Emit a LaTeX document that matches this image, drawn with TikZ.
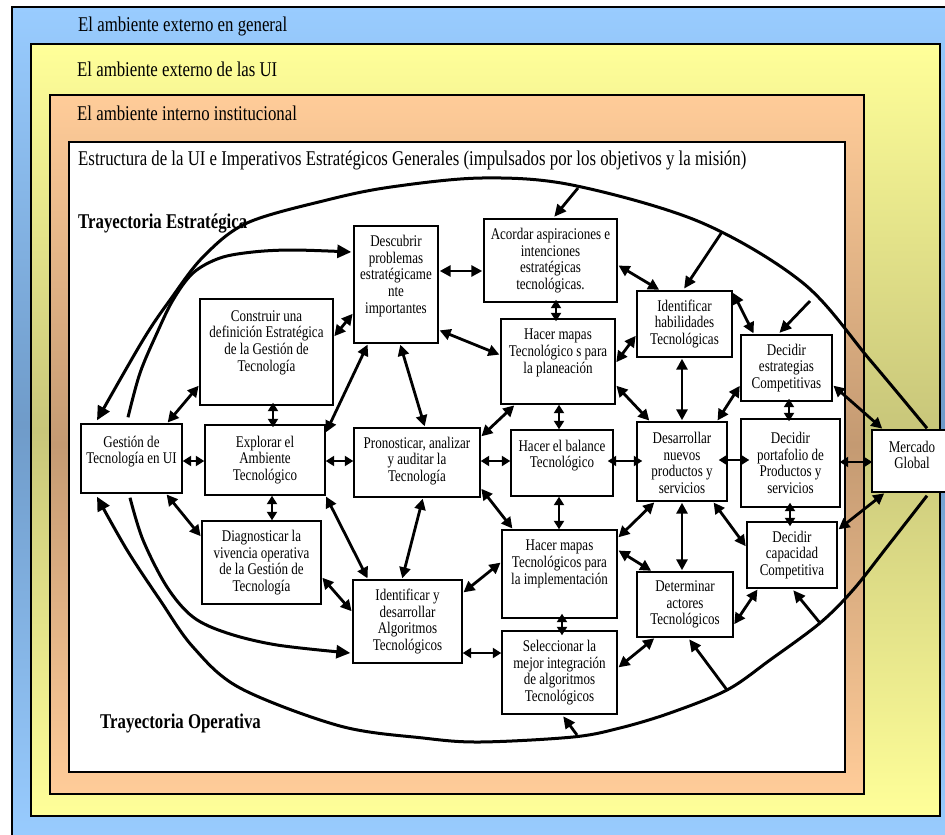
\documentclass[tikz,border=0pt]{standalone}
\usepackage{fontspec}
\setmainfont{Liberation Serif}[FakeStretch=0.8]
\usetikzlibrary{arrows.meta,calc}
\definecolor{bluel}{HTML}{99CCFF}
\definecolor{bluem}{HTML}{6F9BC9}
\definecolor{yell}{HTML}{FFFF99}
\definecolor{yelm}{HTML}{C8C67A}
\definecolor{oral}{HTML}{FFCC99}
\definecolor{oram}{HTML}{C49A72}
\begin{document}
\begin{tikzpicture}[x=1pt,y=-1pt,
  box/.style={draw=black, line width=1.4pt, fill=white, inner sep=0pt},
  txt/.style={align=center, inner sep=0pt, font=\fontsize{16.3}{16.7}\selectfont},
  layer/.style={anchor=base west, inner sep=0pt, font=\fontsize{21}{24}\selectfont},
  traj/.style={anchor=base west, inner sep=0pt, font=\fontsize{21}{24}\selectfont\bfseries},
  dbl/.style={line width=2.8pt, {Triangle[length=11pt,width=11pt]}-{Triangle[length=11pt,width=11pt]}, shorten <=1pt, shorten >=1pt},
  dblshort/.style={line width=2.8pt, {Triangle[length=8.5pt,width=10pt]}-{Triangle[length=8.5pt,width=10pt]}, shorten <=#1, shorten >=#1},
  sarrow/.style={line width=2.8pt, -{Triangle[length=12pt,width=11pt]}, shorten >=2pt},
  arcline/.style={line width=3pt, line join=round},
  arcarrow/.style={arcline, -{Triangle[length=14pt,width=13pt]}},
  layerbox/.style={draw=black, line width=1.4pt},
]
\useasboundingbox (0,0) rectangle (945,835);
\fill[white] (0,0) rectangle (945,835);
% layers
\path[layerbox, top color=bluel, bottom color=bluel, middle color=bluem] (12,7) rectangle (952,842);
\path[layerbox, top color=yell, bottom color=yell, middle color=yelm] (31,44) rectangle (940,816);
\path[layerbox, top color=oral, bottom color=oral, middle color=oram] (50,95) rectangle (864,794);
\path[layerbox, fill=white] (69,142) rectangle (845,772);

\node[layer] (L1) at (78,31) {El ambiente externo en general};
\node[layer] (L2) at (77,76) {El ambiente externo de las UI};
\node[layer] (L3) at (77,120) {El ambiente interno institucional};
\node[layer] (L4) at (78,165) {Estructura de la UI e Imperativos Estratégicos Generales (impulsados por los objetivos y la misión)};
\node[traj] (T1) at (78,228) {Trayectoria Estratégica};
\node[traj] (T2) at (100,728) {Trayectoria Operativa};

% boxes
\node[box, minimum width=101, minimum height=69] (gest) at (131.5,458.5) {};
\node[box, minimum width=133, minimum height=106] (cons) at (266.5,352) {};
\node[box, minimum width=120, minimum height=70] (expl) at (265,460) {};
\node[box, minimum width=119, minimum height=83] (diag) at (261.5,562.5) {};
\node[box, minimum width=84, minimum height=117] (desc) at (396,284.5) {};
\node[box, minimum width=133, minimum height=83] (acor) at (550.5,260.5) {};
\node[box, minimum width=114, minimum height=85] (hmp) at (558,361.5) {};
\node[box, minimum width=126, minimum height=69] (pron) at (417,462.5) {};
\node[box, minimum width=102, minimum height=66] (bal) at (562,463) {};
\node[box, minimum width=95, minimum height=66] (hab) at (684.5,324) {};
\node[box, minimum width=91, minimum height=66] (est) at (786.5,368) {};
\node[box, minimum width=90, minimum height=79] (des) at (682,461.5) {};
\node[box, minimum width=99, minimum height=88] (port) at (790.5,463) {};
\node[box, minimum width=75, minimum height=62] (merc) at (909.5,461) {};
\node[box, minimum width=115, minimum height=88] (impl) at (559.5,574) {};
\node[box, minimum width=109, minimum height=83] (alg) at (407.5,621.5) {};
\node[box, minimum width=115, minimum height=83] (sel) at (559.5,672.5) {};
\node[box, minimum width=96, minimum height=65] (det) at (685,604.5) {};
\node[box, minimum width=90, minimum height=66] (cap) at (792,555) {};

% curves
\coordinate (A0) at ($(merc.north -| 927,0)+(0,-1)$);
\coordinate (A1) at ($(gest.north -| 97,0)+(0,-3)$);
\draw[arcarrow] plot[smooth, tension=0.55] coordinates {(A0) (870,360) (803,283) (700,222) (572,185) (482,178) (391,187) (327,200) (247,223) (203,257) (170,300) (143,340) (A1)};
\coordinate (B0) at ($(gest.north -| 128,0)+(0,-6)$);
\coordinate (B1) at ($(desc.west |- 0,252)+(-2,0)$);
\draw[arcarrow] plot[smooth, tension=0.55] coordinates {(B0) (140,373) (157,333) (173,300) (193,273) (220,258) (253,252) (293,250) (B1)};
\coordinate (C0) at ($(merc.south -| 927,0)+(0,3)$);
\coordinate (C1) at ($(gest.south -| 97,0)+(0,3)$);
\draw[arcarrow] plot[smooth, tension=0.55] coordinates {(C0) (887,547) (853,590) (820,623) (770,660) (727,690) (670,713) (620,728) (573,737) (480,742) (423,738) (340,726) (240,688) (193,647) (160,600) (127,550) (C1)};
\coordinate (D0) at ($(gest.south -| 130,0)+(0,4)$);
\coordinate (D1) at ($(alg.west |- 0,653)+(-2,0)$);
\draw[arcarrow] plot[smooth, tension=0.55] coordinates {(D0) (143,540) (167,587) (193,617) (227,633) (277,645) (D1)};

% short arrows from the curves
\coordinate (s1) at (578,188);
\coordinate (s2) at (722,232);
\coordinate (s3) at (810,301);
\coordinate (s4) at (727,690);
\coordinate (s5) at (820,623);
\coordinate (s6) at (577,735);
\draw[sarrow] (s1) -- (acor.north -| 553,0);
\draw[sarrow] (s2) -- (hab.north -| 683,0);
\draw[sarrow] (s3) -- (est.north -| 778,0);
\draw[sarrow] (s4) -- (det.south -| 688,0);
\draw[sarrow] (s5) -- (cap.south -| 792,0);
\draw[sarrow] (s6) -- (sel.south -| 562,0);

% texts
\node[txt] (gest-t) at ([yshift=7pt]gest.center) {Gestión de\\Tecnología en UI};
\node[txt] (cons-t) at ([yshift=9.5pt]cons.center) {Construir una\\definición Estratégica\\de la Gestión de\\Tecnología};
\node[txt] (expl-t) at (expl.center) {Explorar el\\Ambiente\\Tecnológico};
\node[txt] (diag-t) at (diag.center) {Diagnosticar la\\vivencia operativa\\de la Gestión de\\Tecnología};
\node[txt] (desc-t) at ([yshift=8.5pt]desc.center) {Descubrir\\problemas\\estratégicame\\nte\\importantes};
\node[txt] (acor-t) at (acor.center) {Acordar aspiraciones e\\intenciones\\estratégicas\\tecnológicas.};
\node[txt] (hmp-t) at ([yshift=8.5pt]hmp.center) {Hacer mapas\\Tecnológico s para\\la planeación};
\node[txt] (pron-t) at ([yshift=1.5pt]pron.center) {Pronosticar, analizar\\y auditar la\\Tecnología};
\node[txt] (bal-t) at ([yshift=7.5pt]bal.center) {Hacer el balance\\Tecnológico};
\node[txt] (hab-t) at (hab.center) {Identificar\\habilidades\\Tecnológicas};
\node[txt] (est-t) at (est.center) {Decidir\\estrategias\\Competitivas};
\node[txt] (des-t) at ([yshift=-1.5pt]des.center) {Desarrollar\\nuevos\\productos y\\servicios};
\node[txt] (port-t) at (port.center) {Decidir\\portafolio de\\Productos y\\servicios};
\node[txt] (merc-t) at ([xshift=2.5pt,yshift=6pt]merc.center) {Mercado\\Global};
\node[txt] (impl-t) at ([yshift=10pt]impl.center) {Hacer mapas\\Tecnológicos para\\la implementación};
\node[txt] (alg-t) at (alg.center) {Identificar y\\desarrollar\\Algoritmos\\Tecnológicos};
\node[txt] (sel-t) at (sel.center) {Seleccionar la\\mejor integración\\de algoritmos\\Tecnológicos};
\node[txt] (det-t) at (det.center) {Determinar\\actores\\Tecnológicos};
\node[txt] (cap-t) at (cap.center) {Decidir\\capacidad\\Competitiva};

% double arrows
\draw[dbl] (gest.north -| 167,0) -- (cons.west |- 0,385);
\draw[dblshort=0pt] (gest.east |- 0,461) -- (expl.west |- 0,461);
\draw[dbl] (gest.south -| 166,0) -- (diag.west |- 0,537);
\draw[dblshort=-3pt] (cons.south -| 273,0) -- (expl.north -| 273,0);
\draw[dbl] (cons.east |- 0,337) -- (desc.west |- 0,313);
\draw[dbl] (expl.east |- 0,433) -- (desc.south -| 368,0);
\draw[dblshort=0pt] (expl.east |- 0,461) -- (pron.west |- 0,461);
\draw[dblshort=0pt] (expl.south -| 272,0) -- (diag.north -| 272,0);
\draw[dbl] (expl.south east) -- (alg.north -| 368,0);
\draw[dbl] (diag.east |- 0,577) -- (alg.west |- 0,612);
\draw[dbl] (desc.east |- 0,271) -- (acor.west |- 0,271);
\draw[dbl] (desc.east |- 0,330) -- (hmp.west |- 0,355);
\draw[dbl] (desc.south -| 400,0) -- (pron.north -| 425,0);
\draw[dblshort=-3pt] (acor.south -| 556,0) -- (hmp.north -| 556,0);
\draw[dbl] (acor.east |- 0,265) -- (hab.north -| 660,0);
\draw[dbl] (hmp.east |- 0,363) -- (hab.west |- 0,335);
\draw[dbl] (hmp.east |- 0,385) -- (des.north -| 650,0);
\draw[dblshort=0pt] (hmp.south -| 559,0) -- (bal.north -| 559,0);
\draw[dbl] (pron.east |- 0,437) -- (hmp.south -| 515,0);
\draw[dblshort=0pt] (pron.east |- 0,461) -- (bal.west |- 0,461);
\draw[dblshort=-6pt] (bal.east |- 0,461) -- (des.west |- 0,461);
\draw[dbl] (pron.south -| 423,0) -- (alg.north -| 402,0);
\draw[dbl] (pron.east |- 0,488) -- (impl.north -| 513,0);
\draw[dblshort=0pt] (bal.south -| 559,0) -- (impl.north -| 559,0);
\draw[dbl] (impl.east |- 0,538) -- (des.south -| 655,0);
\draw[dbl] (alg.east |- 0,593) -- (impl.west |- 0,562);
\draw[dbl] (impl.east |- 0,550) -- (det.north -| 652,0);
\draw[dblshort=-5pt] (impl.south -| 562,0) -- (sel.north -| 562,0);
\draw[dblshort=0pt] (alg.east |- 0,653) -- (sel.west |- 0,653);
\draw[dbl] (sel.east |- 0,668) -- (det.south -| 655,0);
\draw[dbl] (des.north -| 682,0) -- (hab.south -| 682,0);
\draw[dbl] (des.north -| 717,0) -- (est.west |- 0,385);
\draw[dblshort=-9pt] (des.east |- 0,460) -- (port.west |- 0,460);
\draw[dbl] (des.south -| 682,0) -- (det.north -| 682,0);
\draw[dbl] (des.south -| 713,0) -- (cap.west |- 0,547);
\draw[dbl] (hab.east |- 0,292) -- (est.north -| 754,0);
\draw[dblshort=-3pt] (est.south -| 789,0) -- (port.north -| 789,0);
\draw[dbl] (est.east |- 0,385) -- (merc.north -| 883,0);
\draw[dblshort=-1pt] (port.east |- 0,462) -- (merc.west |- 0,462);
\draw[dblshort=-5pt] (port.south -| 790,0) -- (cap.north -| 790,0);
\draw[dbl] (cap.east |- 0,530) -- (merc.south -| 885,0);
\draw[dbl] (det.east |- 0,625) -- (cap.south -| 758,0);
\end{tikzpicture}
\end{document}
